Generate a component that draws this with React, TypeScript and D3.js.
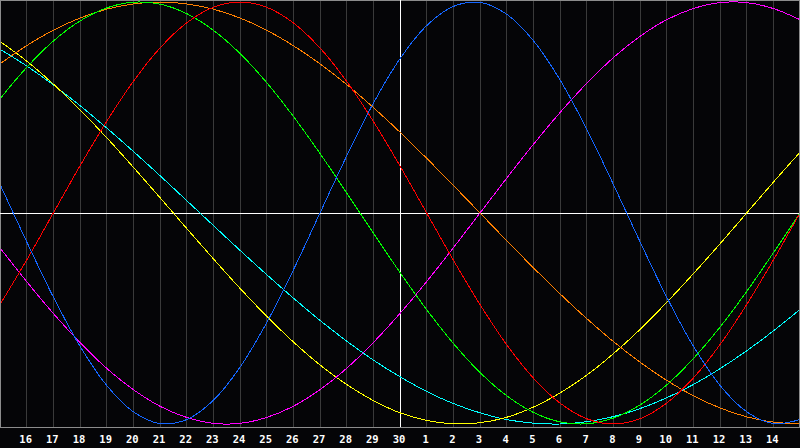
import { useEffect, useRef } from 'react';
import * as d3 from 'd3';

// day of month for each column (15th of last month .. 15th of this month)
const DAYS = [15, 16, 17, 18, 19, 20, 21, 22, 23, 24, 25, 26, 27, 28, 29, 30, 1, 2, 3, 4, 5, 6, 7, 8, 9, 10, 11, 12, 13, 14, 15];
const TODAY_INDEX = 15;

// cycle values per day, -1 .. 1
const PHYSICAL = [0.136, -0.136, -0.398, -0.631, -0.817, -0.942, -0.998, -0.979, -0.888, -0.731, -0.520, -0.270, 0, 0.270, 0.520, 0.731, 0.888, 0.979, 0.998, 0.942, 0.817, 0.631, 0.398, 0.136, -0.136, -0.398, -0.631, -0.817, -0.942, -0.998, -0.979];
const EMOTIONAL = [-0.434, -0.223, 0, 0.223, 0.434, 0.624, 0.782, 0.901, 0.975, 1, 0.975, 0.901, 0.782, 0.624, 0.434, 0.223, 0, -0.223, -0.434, -0.624, -0.782, -0.901, -0.975, -1, -0.975, -0.901, -0.782, -0.624, -0.434, -0.223, 0];
const INTELLECTUAL = [0.541, 0.690, 0.815, 0.910, 0.972, 0.999, 0.990, 0.945, 0.866, 0.756, 0.618, 0.458, 0.282, 0.095, -0.095, -0.282, -0.458, -0.618, -0.756, -0.866, -0.945, -0.990, -0.999, -0.972, -0.910, -0.815, -0.690, -0.541, -0.372, -0.189, 0];
const INTUITIVE = [-0.165, -0.325, -0.476, -0.614, -0.736, -0.837, -0.916, -0.969, -0.997, -0.997, -0.969, -0.916, -0.837, -0.736, -0.614, -0.476, -0.325, -0.165, 0, 0.165, 0.325, 0.476, 0.614, 0.736, 0.837, 0.916, 0.969, 0.997, 0.997, 0.969, 0.916];
const AESTHETIC = [0.813, 0.720, 0.611, 0.489, 0.357, 0.217, 0.073, -0.073, -0.217, -0.357, -0.489, -0.611, -0.720, -0.813, -0.889, -0.947, -0.983, -0.999, -0.994, -0.968, -0.920, -0.853, -0.769, -0.667, -0.552, -0.424, -0.288, -0.146, 0, 0.146, 0.288];
const AWARENESS = [0.707, 0.793, 0.866, 0.924, 0.966, 0.991, 1, 0.991, 0.966, 0.924, 0.866, 0.793, 0.707, 0.609, 0.5, 0.383, 0.259, 0.131, 0, -0.131, -0.259, -0.383, -0.5, -0.609, -0.707, -0.793, -0.866, -0.924, -0.966, -0.991, -1];
const SPIRITUAL = [0.776, 0.697, 0.607, 0.509, 0.403, 0.292, 0.177, 0.059, -0.059, -0.177, -0.292, -0.403, -0.509, -0.607, -0.697, -0.776, -0.846, -0.903, -0.947, -0.979, -0.996, -1.0, -0.989, -0.965, -0.927, -0.876, -0.813, -0.738, -0.653, -0.559, -0.457];

const SERIES = [
    { name: 'spiritual', color: '#00ffff', values: SPIRITUAL },
    { name: 'aesthetic', color: '#ffff00', values: AESTHETIC },
    { name: 'awareness', color: '#ff8000', values: AWARENESS },
    { name: 'intuitive', color: '#ff00ff', values: INTUITIVE },
    { name: 'intellectual', color: '#00ff00', values: INTELLECTUAL },
    { name: 'emotional', color: '#ff0000', values: EMOTIONAL },
    { name: 'physical', color: '#1466ff', values: PHYSICAL },
];

const Biorhythm = () => {
    const svgRef = useRef<SVGSVGElement>(null);

    useEffect(() => {
        document.body.style.margin = '0';
        document.body.style.background = '#050507';
        if (!svgRef.current) return;

        const svg = d3.select(svgRef.current);
        svg.selectAll('*').remove();

        const width = 800;
        const height = 448;
        const plotBottom = 427;

        svg.attr('width', width).attr('height', height).style('display', 'block');

        svg.append('rect').attr('width', width).attr('height', height).attr('fill', '#050507');

        const x = d3.scaleLinear().domain([0, DAYS.length - 1]).range([0, width]);
        const y = d3.scaleLinear().domain([-1, 1]).range([424, 2]);

        const snap = (v: number) => Math.floor(v) + 0.5;

        // day grid
        const inner = d3.range(1, DAYS.length - 1);
        svg.append('g')
            .selectAll('line')
            .data(inner.filter((i) => i !== TODAY_INDEX))
            .enter()
            .append('line')
            .attr('x1', (i) => snap(x(i)))
            .attr('x2', (i) => snap(x(i)))
            .attr('y1', 0)
            .attr('y2', plotBottom)
            .attr('stroke', '#3a3a3a')
            .attr('shape-rendering', 'crispEdges');

        // frame
        const frame = svg.append('g').attr('stroke', '#8c8c8c').attr('shape-rendering', 'crispEdges');
        frame.append('line').attr('x1', 0).attr('x2', width).attr('y1', 0.5).attr('y2', 0.5);
        frame.append('line').attr('x1', 0.5).attr('x2', 0.5).attr('y1', 0).attr('y2', plotBottom);
        frame.append('line').attr('x1', width - 0.5).attr('x2', width - 0.5).attr('y1', 0).attr('y2', plotBottom);
        frame.append('line').attr('x1', 0).attr('x2', width).attr('y1', plotBottom + 0.5).attr('y2', plotBottom + 0.5);

        // zero line and today marker
        svg.append('line')
            .attr('x1', 0)
            .attr('x2', width - 1)
            .attr('y1', snap(y(0)))
            .attr('y2', snap(y(0)))
            .attr('stroke', '#ffffff')
            .attr('shape-rendering', 'crispEdges');
        svg.append('line')
            .attr('x1', snap(x(TODAY_INDEX)))
            .attr('x2', snap(x(TODAY_INDEX)))
            .attr('y1', 0)
            .attr('y2', plotBottom)
            .attr('stroke', '#ffffff')
            .attr('shape-rendering', 'crispEdges');

        const line = d3
            .line<number>()
            .x((_, i) => x(i))
            .y((d) => y(d))
            .curve(d3.curveCatmullRom.alpha(0.5));

        const clipId = 'plot-clip';
        svg.append('clipPath').attr('id', clipId).append('rect').attr('x', 1).attr('y', 1).attr('width', width - 2).attr('height', plotBottom - 1);

        svg.append('g')
            .attr('clip-path', `url(#${clipId})`)
            .selectAll('path')
            .data(SERIES)
            .enter()
            .append('path')
            .attr('d', (s) => line(s.values))
            .attr('fill', 'none')
            .attr('stroke', (s) => s.color)
            .attr('stroke-width', 1)
            .attr('shape-rendering', 'crispEdges');

        // day labels
        svg.append('g')
            .selectAll('text')
            .data(inner)
            .enter()
            .append('text')
            .attr('x', (i) => x(i) - 1)
            .attr('y', 443)
            .attr('text-anchor', 'middle')
            .attr('fill', '#ffffff')
            .attr('font-family', '"DejaVu Sans Mono", monospace')
            .attr('font-weight', 'bold')
            .attr('font-size', 10.5)
            .text((i) => DAYS[i]);
    }, []);

    return <svg ref={svgRef}></svg>;
};

export default function App() {
    return <Biorhythm />;
}
